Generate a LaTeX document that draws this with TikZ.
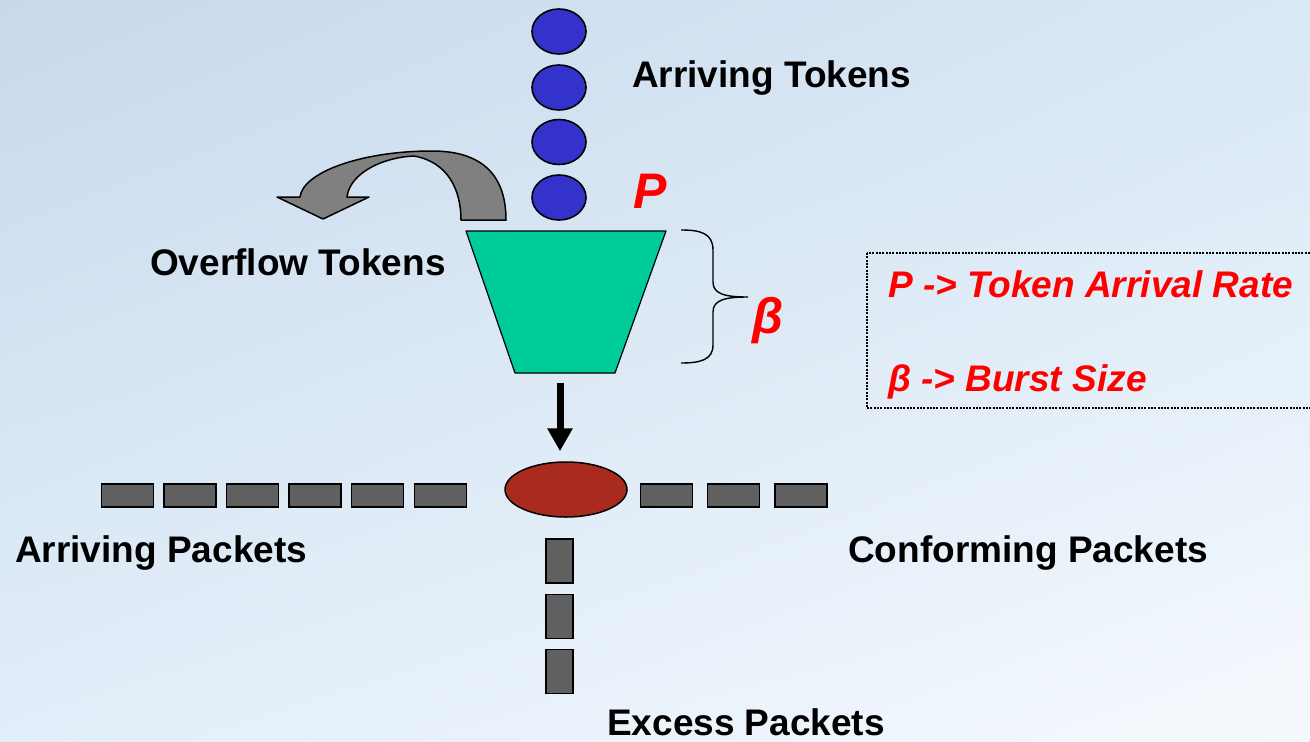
\documentclass[tikz,border=0pt]{standalone}
\usepackage{fontspec}
\setmainfont{Liberation Sans}
\usetikzlibrary{shapes.geometric,arrows.meta,shadings}

\definecolor{bgA}{RGB}{200,217,236}
\definecolor{bgB}{RGB}{216,232,245}
\definecolor{bgC}{RGB}{226,238,249}
\definecolor{bgD}{RGB}{245,249,253}
\definecolor{tokenblue}{RGB}{51,51,204}
\definecolor{bucketgreen}{RGB}{0,204,153}
\definecolor{policered}{RGB}{169,42,31}
\definecolor{packetgray}{RGB}{96,96,96}
\definecolor{overflowgray}{RGB}{128,128,128}
\definecolor{labelred}{RGB}{255,0,0}

\tikzset{
  token/.style={ellipse, draw=black, line width=1.6pt, fill=tokenblue,
    minimum width=54pt, minimum height=45pt, inner sep=0pt},
  hpacket/.style={rectangle, draw=black, line width=1.5pt, fill=packetgray,
    minimum width=52pt, minimum height=23pt, inner sep=0pt},
  vpacket/.style={rectangle, draw=black, line width=1.5pt, fill=packetgray,
    minimum width=27pt, minimum height=44pt, inner sep=0pt},
  lbl/.style={inner sep=0pt, anchor=base west, font=\fontsize{37}{44}\selectfont\bfseries},
  redlbl/.style={inner sep=0pt, anchor=base west, text=labelred,
    font=\fontsize{37}{44}\selectfont\bfseries\itshape},
  biglbl/.style={inner sep=0pt, anchor=base west, text=labelred,
    font=\fontsize{50}{60}\selectfont\bfseries\itshape},
}

\begin{document}
\begin{tikzpicture}[x=1pt, y=-1pt]
  % page and background
  \useasboundingbox (0,0) rectangle (1310,742);
  \shade[upper left=bgA, upper right=bgB, lower left=bgC, lower right=bgD]
    (0,0) rectangle (1310,742);

  % arriving tokens
  \node[token] (t1) at (559,31.5) {};
  \node[token] (t2) at (559,87.5) {};
  \node[token] (t3) at (559,142) {};
  \node[token] (t4) at (559,197.5) {};
  \node[lbl] (arrtok) at (632,87) {Arriving Tokens};
  \node[biglbl] (rateP) at (633,208) {P};

  % overflow arrow
  \draw[fill=overflowgray, line width=1.5pt, line join=round]
    (461,220) -- (506,220)
    .. controls (506,175) and (482,151) .. (432,151)
    .. controls (362,151) and (303,172) .. (300,197)
    -- (277,197) -- (323,219) -- (369,197) -- (347,197)
    .. controls (350,172) and (385,157) .. (414,156)
    .. controls (448,162) and (461,190) .. (461,220) -- cycle;
  \node[lbl] (ovtok) at (150,275) {Overflow Tokens};

  % token bucket
  \coordinate (bTL) at (466,231);
  \coordinate (bTR) at (666,231);
  \coordinate (bBR) at (615,373);
  \coordinate (bBL) at (515,373);
  \draw[fill=bucketgreen, line width=1.2pt, line join=round]
    (bTL) -- (bTR) -- (bBR) -- (bBL) -- cycle;

  % bucket depth brace
  \coordinate (brTop) at (681,230);
  \coordinate (brTip) at (748,297);
  \coordinate (brBot) at (681,363);
  \draw[line width=1.4pt]
    (brTop) .. controls (700,230) and (713,233) .. (713,250)
    -- (713,282) .. controls (713,294) and (725,297) .. (brTip)
    .. controls (725,297) and (713,300) .. (713,312)
    -- (713,345) .. controls (713,360) and (700,363) .. (brBot);
  \node[biglbl] (burst) at (752,333) {β};

  % legend
  \draw[dash pattern=on 2pt off 1.3pt, line width=1.6pt]
    (867,253) rectangle (1313,408);
  \node[redlbl] (leg1) at (888,297) {P -> Token Arrival Rate};
  \node[redlbl] (leg2) at (888,391) {β -> Burst Size};

  % policer
  \node[ellipse, draw=black, line width=1.5pt, fill=policered,
    minimum width=122pt, minimum height=55pt, inner sep=0pt]
    (police) at (566,489.5) {};
  \coordinate (bucketout) at (560,383);
  \draw[line width=7pt, -{Triangle[length=23pt, width=24pt]}, shorten >=10pt]
    (bucketout) -- (bucketout |- police.north);

  % packet streams
  \foreach \i/\x in {1/127.5, 2/190, 3/252.5, 4/315, 5/377.5, 6/440.5}
    \node[hpacket] (in\i) at (\x,495.5) {};
  \foreach \i/\x in {1/666.5, 2/733.5, 3/801}
    \node[hpacket] (out\i) at (\x,495.5) {};
  \foreach \i/\y in {1/561, 2/616.5, 3/671.5}
    \node[vpacket] (ex\i) at (559.5,\y) {};

  \node[lbl] (arrpk) at (15,562) {Arriving Packets};
  \node[lbl] (confpk) at (848,562) {Conforming Packets};
  \node[lbl] (excpk) at (607,735) {Excess Packets};
\end{tikzpicture}
\end{document}
